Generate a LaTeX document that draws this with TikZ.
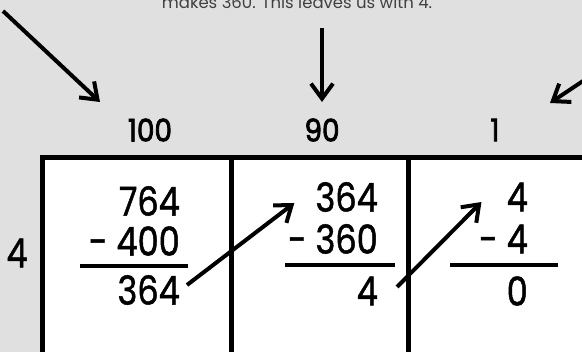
\documentclass[tikz,border=0pt]{standalone}
\usepackage{fontspec}
\setmainfont{Poppins}
\newfontfamily\digitfont[FakeBold=1.2, FakeStretch=0.84]{Poppins}
\newfontfamily\headfont[FakeBold=2.5, FakeStretch=0.9]{Poppins}
\usetikzlibrary{arrows.meta,positioning}
\definecolor{bggray}{RGB}{224,224,224}

\begin{document}
\begin{tikzpicture}[x=1pt, y=-1pt,
  cell/.style={rectangle, draw, fill=white, line width=5pt,
    anchor=north west, inner sep=0pt, outer sep=0pt,
    minimum height=200pt},
  hdr/.style={font=\headfont\fontsize{31}{31}\selectfont},
  num/.style={font=\digitfont\fontsize{40}{40}\selectfont, anchor=east,
    inner sep=0pt},
  rule/.style={line width=3.5pt},
  arr/.style={-{Straight Barb[length=15pt, width=22pt]},
    line width=4pt}
]
  % background and frame
  \fill[bggray] (0,0) rectangle (582,352);
  \clip (0,0) rectangle (582,352);

  % note at the top
  \node[font=\fontsize{16.5}{16.5}\selectfont, text=black!75] (note)
    at (297,2.5) {makes 360. This leaves us with 4.};

  % the three place-value cells
  \node[cell, minimum width=189pt] (c1) at (42,157.5) {};
  \node[cell, minimum width=177pt] (c2) at (231,157.5) {};
  \node[cell, minimum width=177pt] (c3) at (408,157.5) {};

  % headers and factor
  \node[hdr] (h100) at (150,130) {100};
  \node[hdr] (h90)  at (322,130) {90};
  \node[hdr] (h1)   at (495,130) {1};
  \node[num, anchor=center] (fac) at (17,253) {4};

  % first cell
  \node[num] (a1) at (180,201) {764};
  \node[num] (b1) at (180,241) {- 400};
  \node[num] (d1) at (180,290) {364};
  \draw[rule] (80,266) -- (188,266);

  % second cell
  \node[num] (t2) at (378,197) {364};
  \node[num] (b2) at (378,239) {- 360};
  \node[num] (d2) at (378,291) {4};
  \draw[rule] (285,265) -- (395,265);

  % third cell
  \node[num] (t3) at (528,197) {4};
  \node[num] (b3) at (528,239) {- 4};
  \node[num] (d3) at (528,291) {0};
  \draw[rule] (450,265) -- (558,265);

  % arrows
  \coordinate (p100) at (3,11);
  \coordinate (p90)  at (322,28);
  \coordinate (p1)   at (586,79);
  \draw[arr] (p100) -- ([shift={(-50,-28)}]h100.center);
  \draw[arr] (p90)  -- ([shift={(0,-28)}]h90.center);
  \draw[arr] (p1)   -- ([shift={(55,-27)}]h1.center);
  \draw[arr] ([shift={(7,-5)}]d1.east) -- ([shift={(-21,6)}]t2.west);
  \draw[arr] ([shift={(19,-4)}]d2.east) -- ([shift={(-25,5)}]t3.west);
\end{tikzpicture}
\end{document}
